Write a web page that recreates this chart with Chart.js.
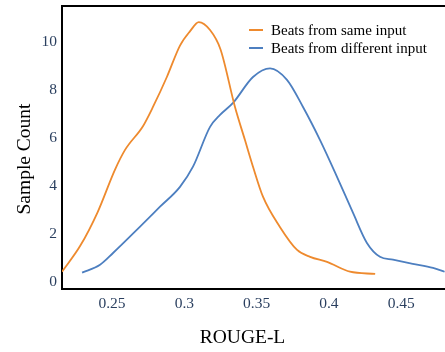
<!DOCTYPE html>
<html lang="en">
<head>
  <meta charset="UTF-8" />
  <title>ROUGE-L distribution</title>
  <script src="https://cdn.jsdelivr.net/npm/chart.js"></script>
  <style>
    html, body { margin: 0; padding: 0; background: #fff; }
    canvas { display: block; }
  </style>
</head>
<body>
  <canvas id="chart" width="445" height="352"></canvas>

  <script>
    // values
    const sameX = [0.2154, 0.228, 0.240, 0.252, 0.259, 0.2715, 0.2784, 0.288, 0.297, 0.304, 0.310, 0.3178, 0.325,
                   0.335, 0.342, 0.3475, 0.3544, 0.366, 0.378, 0.387, 0.3987, 0.4146, 0.432];
    const sameY = [0.42, 1.5, 2.9, 4.67, 5.5, 6.5, 7.3, 8.55, 9.85, 10.45, 10.83, 10.5, 9.7,
                   7.3, 5.9, 4.8, 3.55, 2.3, 1.33, 1.04, 0.83, 0.42, 0.33];
    const diffX = [0.2293, 0.2417, 0.2507, 0.2694, 0.2832, 0.297, 0.306, 0.3178, 0.3247, 0.3337, 0.3475, 0.3593,
                   0.371, 0.382, 0.3938, 0.4056, 0.4167, 0.4263, 0.4353, 0.4443, 0.458, 0.472, 0.480];
    const diffY = [0.38, 0.71, 1.2, 2.3, 3.13, 3.96, 4.8, 6.46, 6.96, 7.46, 8.54, 8.9,
                   8.42, 7.3, 5.92, 4.38, 2.87, 1.62, 1.04, 0.92, 0.75, 0.58, 0.42];
    const xTicks = [0.25, 0.3, 0.35, 0.4, 0.45];
    const yTicks = [0, 2, 4, 6, 8, 10];
    const seriesLabels = ['Beats from same input', 'Beats from different input'];
    const xTitle = 'ROUGE-L';
    const yTitle = 'Sample Count';

    const serif = '"Liberation Serif", "Times New Roman", serif';
    const tickColor = '#2a3f5f';

    const zip = (xs, ys) => xs.map((x, i) => ({ x: x, y: ys[i] }));

    // legend drawn inside the plot, top right
    const innerLegend = {
      id: 'innerLegend',
      afterDatasetsDraw(chart) {
        const ctx = chart.ctx;
        ctx.save();
        ctx.font = '15px ' + serif;
        ctx.textBaseline = 'middle';
        chart.data.datasets.forEach((ds, i) => {
          const y = 30 + i * 18;
          ctx.strokeStyle = ds.borderColor;
          ctx.lineWidth = 2;
          ctx.beginPath();
          ctx.moveTo(249, y);
          ctx.lineTo(263, y);
          ctx.stroke();
          ctx.fillStyle = '#000';
          ctx.fillText(ds.label, 271, y + 1);
        });
        ctx.restore();
      }
    };

    // top frame line + axis titles (the original's titles sit off-centre)
    const frameAndTitles = {
      id: 'frameAndTitles',
      afterDraw(chart) {
        const { ctx, chartArea } = chart;
        ctx.save();
        ctx.strokeStyle = '#000';
        ctx.lineWidth = 2;
        ctx.beginPath();
        ctx.moveTo(chartArea.left - 1, chartArea.top);
        ctx.lineTo(chartArea.right, chartArea.top);
        ctx.stroke();

        ctx.fillStyle = '#000';
        ctx.font = '19.5px ' + serif;
        ctx.textAlign = 'center';
        ctx.textBaseline = 'middle';
        ctx.fillText(xTitle, 242.5, 338);
        ctx.translate(25, 159);
        ctx.rotate(-Math.PI / 2);
        ctx.fillText(yTitle, 0, 0);
        ctx.restore();
      }
    };

    new Chart(document.getElementById('chart'), {
      type: 'line',
      data: {
        datasets: [
          {
            label: seriesLabels[0],
            data: zip(sameX, sameY),
            borderColor: '#ee8a2e',
            borderWidth: 1.8,
            pointRadius: 0,
            cubicInterpolationMode: 'monotone',
            fill: false
          },
          {
            label: seriesLabels[1],
            data: zip(diffX, diffY),
            borderColor: '#4d7fc0',
            borderWidth: 1.8,
            pointRadius: 0,
            cubicInterpolationMode: 'monotone',
            fill: false
          }
        ]
      },
      options: {
        responsive: false,
        animation: false,
        layout: { padding: { top: 6, right: 0, left: 0, bottom: 0 } },
        plugins: {
          legend: { display: false },
          tooltip: { enabled: false }
        },
        scales: {
          x: {
            type: 'linear',
            min: 0.2154,
            max: 0.4803,
            afterBuildTicks: s => { s.ticks = xTicks.map(v => ({ value: v })); },
            afterFit: s => { s.height = 63; },
            grid: { display: false, drawTicks: false },
            border: { display: true, color: '#000', width: 2 },
            ticks: {
              padding: 6,
              color: tickColor,
              font: { family: serif, size: 15.5 },
              maxRotation: 0,
              callback: v => String(v)
            }
          },
          y: {
            min: -0.3,
            max: 11.5,
            afterBuildTicks: s => { s.ticks = yTicks.map(v => ({ value: v })); },
            afterFit: s => { s.width = 62; s.paddingTop = 0; s.paddingBottom = 0; },
            grid: { display: false, drawTicks: false },
            border: { display: true, color: '#000', width: 2 },
            ticks: {
              padding: 5,
              color: tickColor,
              font: { family: serif, size: 15.5 },
              callback: v => String(v)
            }
          }
        }
      },
      plugins: [innerLegend, frameAndTitles]
    });
  </script>
</body>
</html>
